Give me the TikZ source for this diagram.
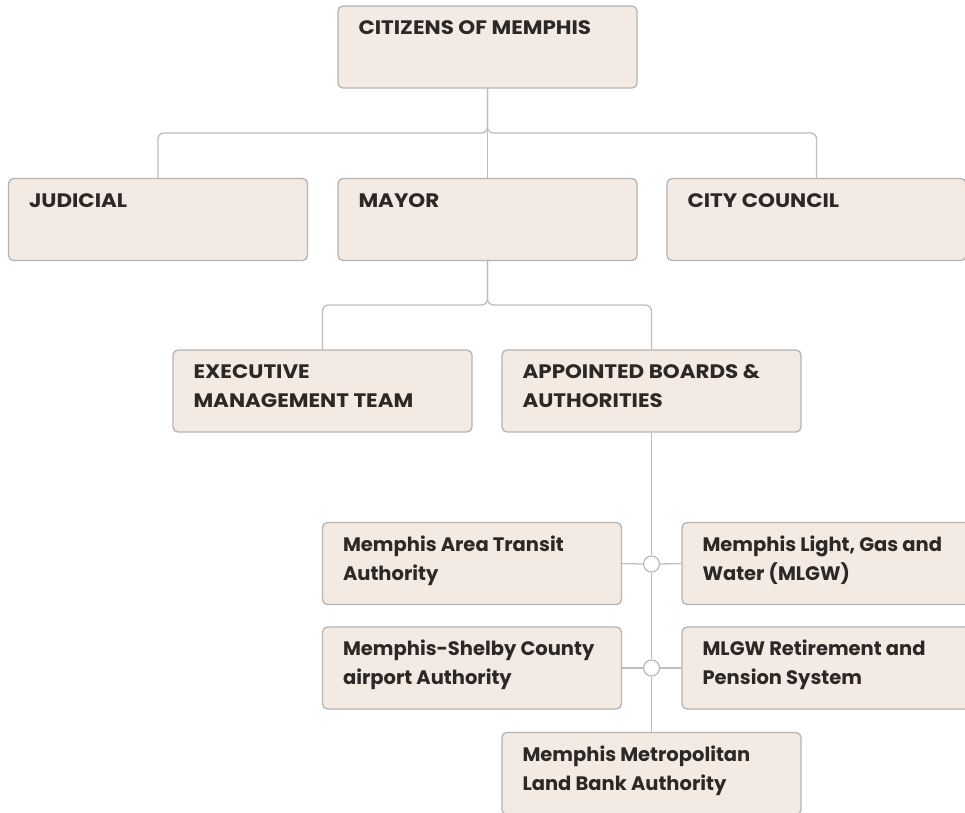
\documentclass[tikz,border=0pt]{standalone}
\usepackage{fontspec}
\setmainfont{Poppins}
\newfontfamily\capsfont{Poppins}[FakeStretch=1.1]
\usetikzlibrary{calc}
\definecolor{boxfill}{HTML}{F3EAE4}
\definecolor{boxline}{HTML}{B4B4B4}
\definecolor{conncol}{HTML}{BDBDBD}
\definecolor{txtcol}{HTML}{2B2826}
\tikzset{
  box/.style={draw=boxline, fill=boxfill, rounded corners=5pt, line width=1.3pt,
    minimum width=299pt, minimum height=82pt, inner sep=0pt},
  lbl/.style={anchor=north west, inner sep=0pt, align=left, text=txtcol,
    font=\fontsize{19.5pt}{29pt}\selectfont\bfseries},
  caps/.style={lbl, font=\fontsize{19.5pt}{29pt}\capsfont\bfseries},
  conn/.style={draw=conncol, line width=1.3pt, rounded corners=6pt},
  junc/.style={circle, draw=conncol, fill=white, line width=1.3pt, minimum size=16pt, inner sep=0pt}
}
\newcommand{\boxat}[5][lbl]{%
  \node[box] (#2) at (#3,#4) {};
  \node[#1] (#2t) at ($(#2.north west)+(21pt,-9pt)$) {\rule{0pt}{20pt}#5};
}
\begin{document}
\begin{tikzpicture}[x=1pt,y=-1pt]
\useasboundingbox (0,0) rectangle (965,812);
\coordinate (b1) at (487.5,133);
\coordinate (b2) at (487.5,305);
\boxat[caps]{cit}{487.5}{47}{CITIZENS OF MEMPHIS}
\boxat[caps]{jud}{158}{219.5}{JUDICIAL}
\boxat[caps]{may}{487.5}{219.5}{MAYOR}
\boxat[caps]{cc}{816.5}{219.5}{CITY COUNCIL}
\boxat[caps]{exe}{322.5}{391}{EXECUTIVE\\MANAGEMENT TEAM}
\boxat[caps]{app}{651.5}{391}{APPOINTED BOARDS \&\\AUTHORITIES}
\boxat{mata}{472}{563.5}{Memphis Area Transit\\Authority}
\boxat{mlgw}{831.5}{563.5}{Memphis Light, Gas and\\Water (MLGW)}
\boxat{msca}{472}{668}{Memphis-Shelby County\\airport Authority}
\boxat{ret}{831.5}{668}{MLGW Retirement and\\Pension System}
\boxat{mml}{651.5}{773.5}{Memphis Metropolitan\\Land Bank Authority}
\node[junc] (c1) at (651.5,564) {};
\node[junc] (c2) at (651.5,668) {};
\draw[conn] (cit.south) -- (b1) -| (jud.north);
\draw[conn] (cit.south) -- (b1) -| (cc.north);
\draw[conn] (cit.south) -- (may.north);
\draw[conn] (may.south) -- (b2) -| (exe.north);
\draw[conn] (may.south) -- (b2) -| (app.north);
\draw[conn] (app.south) -- (c1.north);
\draw[conn] (c1.south) -- (c2.north);
\draw[conn] (c2.south) -- (mml.north);
\draw[conn] (mata.east) -- (c1.west);
\draw[conn] (c1.east) -- (mlgw.west);
\draw[conn] (msca.east) -- (c2.west);
\draw[conn] (c2.east) -- (ret.west);
\end{tikzpicture}
\end{document}
